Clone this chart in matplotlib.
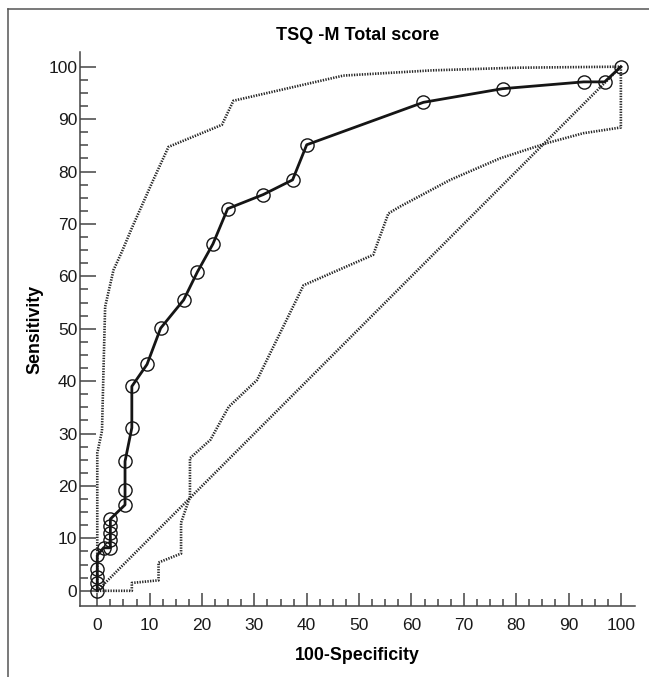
import matplotlib
matplotlib.use('Agg')
import matplotlib.pyplot as plt
from matplotlib.lines import Line2D
from matplotlib.ticker import FixedLocator
import numpy as np

plt.rcParams['font.family'] = ['Liberation Sans', 'DejaVu Sans']

# ROC curve (100-specificity, sensitivity)
roc_x = [0, 0, 0, 0, 0, 1.2, 2.5, 2.5, 2.5, 2.5, 2.5, 5.3, 5.3, 5.3, 6.6, 6.6,
         9.5, 12.1, 16.5, 19.1, 22.1, 24.9, 31.7, 37.3, 40.0, 62.3, 77.4, 92.9, 96.9, 100]
roc_y = [0, 1.4, 2.7, 4.1, 6.8, 8.2, 8.2, 9.6, 11.0, 12.3, 13.7, 16.4, 19.2, 24.7, 31.1, 39.0,
         43.2, 50.1, 55.5, 60.8, 66.2, 72.9, 75.6, 78.4, 85.1, 93.2, 95.8, 97.1, 97.1, 100]

# upper confidence bound
upper_x = [0, 0, 0.9, 1.2, 1.5, 3.1, 4.7, 6.6, 10.7, 13.6, 23.8, 26.0, 47.0, 64.0, 80.0, 100]
upper_y = [0, 26.3, 30.5, 42.7, 54.2, 61.2, 64.7, 69.2, 78.4, 84.7, 88.9, 93.5, 98.3, 99.3, 99.8, 100]

# lower confidence bound
lower_x = [0, 6.6, 6.6, 11.7, 11.7, 16.0, 16.0, 17.7, 17.7, 21.6, 25.1, 30.5, 39.4,
           52.7, 55.6, 57.8, 67.4, 76.9, 85.8, 92.8, 100, 100]
lower_y = [0, 0, 1.5, 2.0, 5.4, 7.1, 13.0, 17.9, 25.3, 28.8, 35.1, 40.2, 58.3,
           64.1, 72.0, 73.3, 78.4, 82.5, 85.4, 87.3, 88.4, 100]

# chance line
diag = [0, 100]

major_ticks = list(range(0, 101, 10))
minor_ticks = [v for v in np.arange(2.5, 100, 2.5) if v % 10 != 0]

fig = plt.figure(figsize=(6.49, 6.77), dpi=100)
ax = fig.add_axes([80 / 649, 1 - 606 / 677, 555 / 649, 554 / 677])

dot = (0, (0.5, 0.5))
dcol = '#262626'
ax.plot(diag, diag, color=dcol, lw=1.9, ls=dot)
ax.plot(upper_x, upper_y, color=dcol, lw=1.9, ls=dot)
ax.plot(lower_x, lower_y, color=dcol, lw=1.9, ls=dot)
ax.plot(roc_x, roc_y, color='#151515', lw=2.0, marker='o', ms=9.5,
        mfc='none', mec='#151515', mew=1.0)

ax.set_xlim(-3.3, 102.7)
ax.set_ylim(-2.9, 102.8)

for s in ['top', 'right']:
    ax.spines[s].set_visible(False)
for s in ['left', 'bottom']:
    ax.spines[s].set_color('#444444')
    ax.spines[s].set_linewidth(1.1)

ax.xaxis.set_major_locator(FixedLocator(major_ticks))
ax.yaxis.set_major_locator(FixedLocator(major_ticks))
ax.xaxis.set_minor_locator(FixedLocator(minor_ticks))
ax.yaxis.set_minor_locator(FixedLocator(minor_ticks))

ax.tick_params(axis='both', which='both', direction='in', color='#444444',
               width=1.1, labelsize=12.5, labelcolor='#1a1a1a')
ax.tick_params(axis='y', which='major', length=11.5, pad=2)
ax.tick_params(axis='y', which='minor', length=6)
ax.tick_params(axis='x', which='major', length=9.7, pad=9)
ax.tick_params(axis='x', which='minor', length=4.7)

ax.set_title('TSQ -M Total score', fontsize=13, fontweight='bold', pad=9)
ax.set_xlabel('100-Specificity', fontsize=12.8, fontweight='bold', va='center')
ax.set_ylabel('Sensitivity', fontsize=12.8, fontweight='bold', va='center')
ax.xaxis.set_label_coords(0.5, (606 - 655) / 554)
ax.yaxis.set_label_coords((35 - 80) / 555, 0.5)

# outer frame (only left and top edges show)
fx = 8 / 649
fy = 1 - 9 / 677
fig.add_artist(Line2D([fx, fx], [0, fy], transform=fig.transFigure, color='#555555', lw=1.1))
fig.add_artist(Line2D([fx, 1], [fy, fy], transform=fig.transFigure, color='#555555', lw=1.1))

fig.savefig('out.png', dpi=100)
